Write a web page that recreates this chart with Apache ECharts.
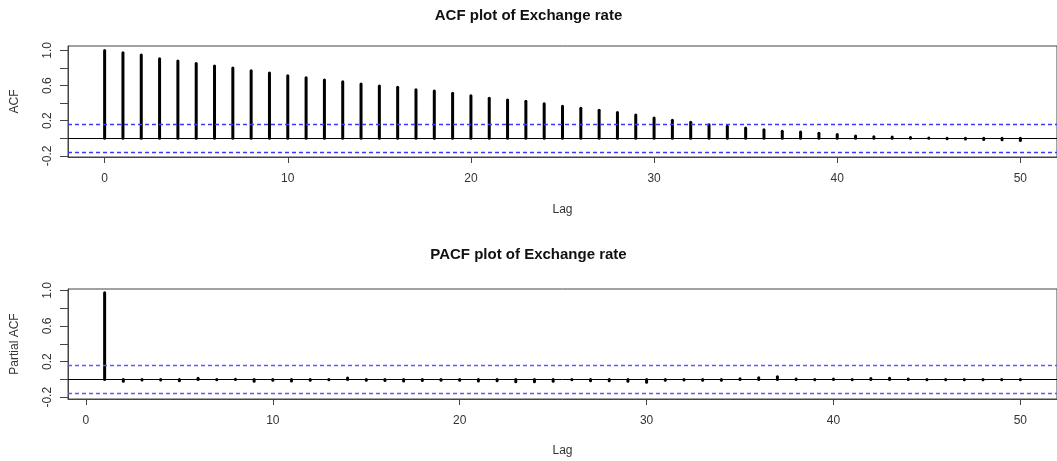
<!DOCTYPE html>
<html>
<head>
<meta charset="utf-8">
<script src="https://cdn.jsdelivr.net/npm/echarts@6/dist/echarts.min.js"></script>
<style>
html,body{margin:0;padding:0;background:#fff;}
#c{width:1057px;height:461px;}
</style>
</head>
<body>
<div id="c"></div>
<script>
// ---- data ----
const acfLags = [0,1,2,3,4,5,6,7,8,9,10,11,12,13,14,15,16,17,18,19,20,21,22,23,24,25,26,27,28,29,30,31,32,33,34,35,36,37,38,39,40,41,42,43,44,45,46,47,48,49,50];
const acfValues = [1.0,0.973,0.947,0.905,0.879,0.852,0.822,0.799,0.769,0.742,0.712,0.689,0.663,0.644,0.617,0.595,0.580,0.553,0.538,0.511,0.485,0.455,0.436,0.420,0.394,0.364,0.341,0.318,0.292,0.265,0.231,0.205,0.182,0.155,0.136,0.117,0.098,0.080,0.072,0.057,0.042,0.027,0.017,0.015,0.008,0.002,-0.006,-0.009,-0.013,-0.018,-0.024];
const pacfLags = [1,2,3,4,5,6,7,8,9,10,11,12,13,14,15,16,17,18,19,20,21,22,23,24,25,26,27,28,29,30,31,32,33,34,35,36,37,38,39,40,41,42,43,44,45,46,47,48,49,50];
const pacfValues = [0.972,-0.02,-0.008,-0.008,-0.015,0.012,-0.003,0.003,-0.022,-0.01,-0.018,-0.01,-0.003,0.015,-0.01,-0.013,-0.018,-0.013,-0.01,-0.01,-0.017,-0.015,-0.026,-0.026,-0.022,-0.005,-0.015,-0.015,-0.02,-0.033,-0.01,-0.008,-0.01,-0.01,0.008,0.018,0.03,0.004,-0.004,0.004,-0.003,0.01,0.012,0.004,-0.003,-0.003,-0.003,-0.004,-0.004,-0.005];
const confLimit = 0.163;
const xTicks = [0,10,20,30,40,50];
const yTicks = [-0.2,0,0.2,0.4,0.6,0.8,1.0];
const yLabels = [-0.2,0.2,0.6,1.0];
const titles = ['ACF plot of Exchange rate','PACF plot of Exchange rate'];
const yNames = ['ACF','Partial ACF'];

// ---- chart ----
const FONT = 'Liberation Sans, Arial, sans-serif';
const axisCol = '#444';
function stem(params, api){
  const x = api.value(0), y = api.value(1);
  const p0 = api.coord([x,0]), p1 = api.coord([x,y]);
  return {type:'line', shape:{x1:p0[0],y1:p0[1],x2:p1[0],y2:p1[1]},
    style:{stroke:'#000',lineWidth:3,lineCap:'round'}};
}
function xAxis(idx,min,max,gap){
  return {type:'value', gridIndex:idx, min:min, max:max,
    name:'Lag', nameLocation:'middle', nameGap:gap,
    nameTextStyle:{fontFamily:FONT,fontSize:12,color:'#333'},
    axisLine:{show:true,onZero:false,lineStyle:{color:axisCol,width:1}},
    axisTick:{show:true,length:6,customValues:xTicks,lineStyle:{color:axisCol}},
    axisLabel:{customValues:xTicks,fontFamily:FONT,fontSize:12,color:'#333',margin:16},
    splitLine:{show:false}};
}
function yAxis(idx,min,max){
  return {type:'value', gridIndex:idx, min:min, max:max,
    name:yNames[idx], nameLocation:'middle', nameGap:47, nameRotate:90,
    nameTextStyle:{fontFamily:FONT,fontSize:12,color:'#333'},
    axisLine:{show:true,onZero:false,lineStyle:{color:axisCol,width:1}},
    axisTick:{show:true,length:8,customValues:yTicks,lineStyle:{color:axisCol}},
    axisLabel:{customValues:yLabels,rotate:90,fontFamily:FONT,fontSize:12,color:'#333',margin:14,
      formatter:v=>v.toFixed(1)},
    splitLine:{show:false}};
}
function refLines(idx, blue){
  return {type:'line', xAxisIndex:idx, yAxisIndex:idx, data:[], silent:true,
    markLine:{symbol:'none', silent:true, label:{show:false}, animation:false,
      data:[
        {yAxis:0, lineStyle:{color:'#000',type:'solid',width:1}},
        {yAxis:confLimit, lineStyle:{color:blue,type:[4,3],width:1.3}},
        {yAxis:-confLimit, lineStyle:{color:blue,type:[4,3],width:1.3}}
      ]}};
}
const chart = echarts.init(document.getElementById('c'), null, {renderer:'canvas'});
chart.setOption({
  animation:false,
  backgroundColor:'#fff',
  title:[
    {text:titles[0], left:'center', top:3, textStyle:{fontFamily:FONT,fontSize:15,fontWeight:'bold',color:'#111'}},
    {text:titles[1], left:'center', top:242, textStyle:{fontFamily:FONT,fontSize:15,fontWeight:'bold',color:'#111'}}
  ],
  grid:[
    {left:68, right:-3, top:46, bottom:304, show:true, borderColor:axisCol, borderWidth:1, backgroundColor:'transparent'},
    {left:68, right:-3, top:289, bottom:62, show:true, borderColor:axisCol, borderWidth:1, backgroundColor:'transparent'}
  ],
  xAxis:[xAxis(0,-2,52,47), xAxis(1,-0.96,51.96,46)],
  yAxis:[yAxis(0,-0.213,1.05), yAxis(1,-0.22,1.015)],
  series:[
    refLines(0,'#3a3aff'),
    refLines(1,'#5a5aff'),
    {type:'custom', xAxisIndex:0, yAxisIndex:0, renderItem:stem, clip:false,
      data:acfLags.map((l,i)=>[l,acfValues[i]])},
    {type:'custom', xAxisIndex:1, yAxisIndex:1, renderItem:stem, clip:false,
      data:pacfLags.map((l,i)=>[l,pacfValues[i]])}
  ]
});
</script>
</body>
</html>
